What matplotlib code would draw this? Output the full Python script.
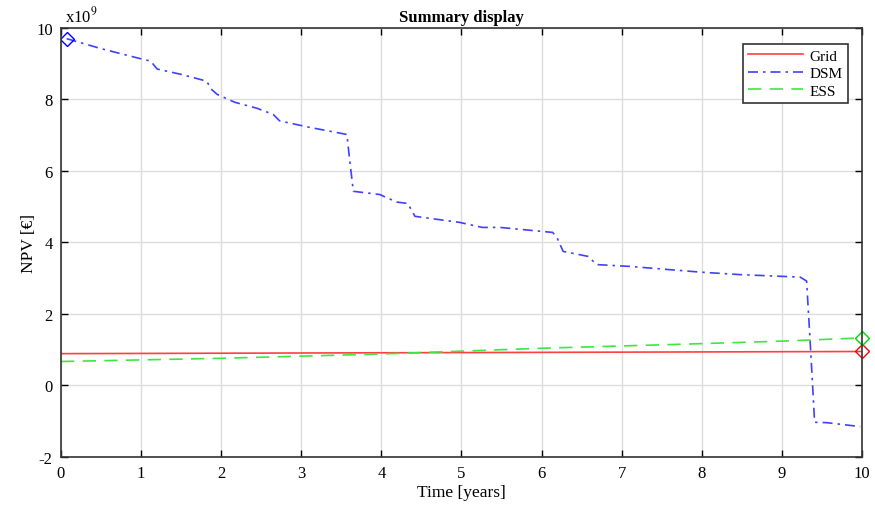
import matplotlib
matplotlib.use('Agg')
import matplotlib.pyplot as plt
import numpy as np

plt.rcParams['font.family'] = ['Liberation Serif', 'DejaVu Serif']
plt.rcParams['mathtext.fontset'] = 'stix'
plt.rcParams['axes.unicode_minus'] = False

# NPV values in units of 1e9 EUR
dsm_t = [0.07, 0.5, 0.99, 1.12, 1.2, 1.5, 1.82, 1.87, 1.95, 2.17, 2.45, 2.65, 2.73, 3.1, 3.57,
         3.6, 3.65, 3.98, 4.19, 4.33, 4.42, 4.98, 5.26, 5.48, 6.14, 6.2, 6.27, 6.58, 6.69,
         7.1, 7.98, 8.48, 9.23, 9.31, 9.36, 9.41, 9.56, 9.98]
dsm_v = [9.7, 9.42, 9.14, 9.07, 8.85, 8.7, 8.51, 8.3, 8.14, 7.92, 7.75, 7.58, 7.4, 7.22, 7.02,
         6.4, 5.43, 5.34, 5.13, 5.09, 4.73, 4.56, 4.42, 4.42, 4.28, 4.1, 3.75, 3.61, 3.38,
         3.33, 3.17, 3.10, 3.03, 2.92, 1.0, -1.03, -1.04, -1.15]
grid_t = [0, 10]
grid_v = [0.89, 0.95]
ess_t = [0, 2, 4, 6, 8, 9, 10]
ess_v = [0.67, 0.76, 0.88, 1.04, 1.17, 1.24, 1.33]

fig = plt.figure(figsize=(8.75, 5.06), dpi=100)
ax = fig.add_axes([0.0697, 0.0949, 0.9153, 0.848])

ax.plot(grid_t, grid_v, color=(1, 0.25, 0.25), lw=1.2, label='Grid')
ax.plot(dsm_t, dsm_v, color=(0.25, 0.25, 1), lw=1.2, ls=(0, (6, 3, 1.5, 3)), label='DSM')
ax.plot(ess_t, ess_v, color=(0.25, 0.9, 0.25), lw=1.2, ls=(0, (8, 5)), label='ESS')

ax.plot(dsm_t[0], dsm_v[0], marker='D', ms=7, mfc='none', mec='blue', mew=1)
ax.plot(grid_t[-1], grid_v[-1], marker='D', ms=7, mfc='none', mec='red', mew=1, clip_on=False)
ax.plot(ess_t[-1], ess_v[-1], marker='D', ms=7, mfc='none', mec=(0, 0.85, 0), mew=1, clip_on=False)

ax.set_xlim(0, 10)
ax.set_ylim(-2, 10)
ax.set_xticks(np.arange(0, 11, 1))
ax.set_yticks(np.arange(-2, 11, 2))
ax.grid(True, color='#dddddd', lw=1)
ax.set_axisbelow(True)
ax.tick_params(direction='in', top=True, right=True, length=5, labelsize=12, width=1, pad=6)
for s in ax.spines.values():
    s.set_linewidth(1.2)
    s.set_color('#333333')

ax.set_title('Summary display', fontsize=12, fontweight='bold', pad=5)
ax.set_xlabel('Time [years]', fontsize=12.5, labelpad=2)
ax.set_ylabel('NPV [€]', fontsize=12.5, labelpad=-1)
ax.text(0.005, 1.005, r'x10$^{9}$', transform=ax.transAxes, fontsize=12, va='bottom', ha='left')

leg = ax.legend(loc='upper right', bbox_to_anchor=(0.9825, 0.963), borderaxespad=0, fontsize=11,
                fancybox=False, framealpha=1, edgecolor='#333333', borderpad=0.35,
                labelspacing=0.25, handlelength=3.6, handletextpad=0.4)
leg.get_frame().set_linewidth(1.2)

fig.savefig('out.png', dpi=100)
